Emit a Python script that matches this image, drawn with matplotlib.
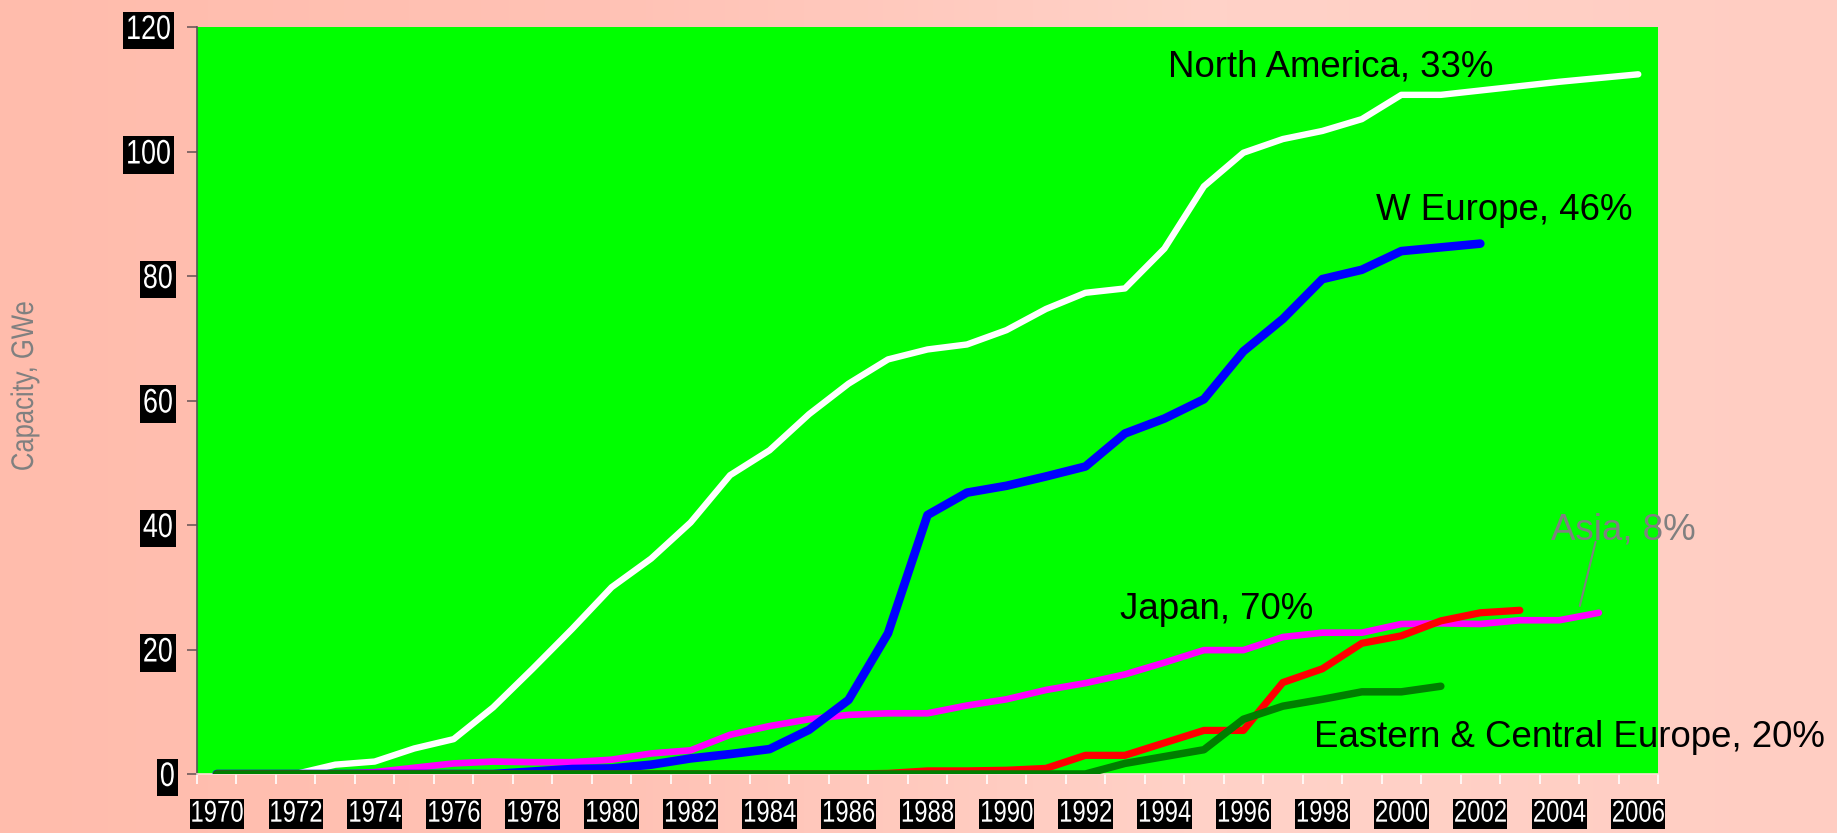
import numpy as np
import matplotlib
matplotlib.use("Agg")
import matplotlib.pyplot as plt
from matplotlib.colors import LinearSegmentedColormap
from matplotlib.patheffects import AbstractPathEffect
from matplotlib.transforms import Affine2D

years = list(range(1970, 2007))
tick_years = [str(y) for y in range(1970, 2007, 2)]
y_ticks = [0, 20, 40, 60, 80, 100, 120]

nan = float("nan")
north_america = [0, 0, 0, 1.5, 2.0, 4.1, 5.6, 10.7, 16.9, 23.3, 30.0, 34.6, 40.4, 48.0,
                 52.0, 57.8, 62.7, 66.6, 68.2, 69.0, 71.3, 74.7, 77.3, 78.0, 84.4, 94.4,
                 99.8, 102.0, 103.3, 105.2, 109.1, 109.1, 109.8, 110.5, 111.2, 111.8, 112.4]
w_europe = [0, 0, 0, 0, 0, 0, 0, 0, 0.4, 0.8, 0.9, 1.5, 2.5, 3.2, 4.0, 7.1, 11.9, 22.6,
            41.6, 45.2, 46.3, 47.8, 49.4, 54.7, 57.1, 60.2, 67.9, 73.1, 79.5, 81.0, 84.0,
            84.6, 85.2, nan, nan, nan, nan]
asia = [0, 0, 0, 0, 0.3, 1.0, 1.7, 2.0, 1.9, 1.9, 2.3, 3.3, 3.8, 6.3, 7.7, 8.8, 9.5, 9.75,
        9.75, 11.0, 12.0, 13.5, 14.6, 16.0, 17.9, 19.9, 19.9, 22.0, 22.7, 22.7, 24.1, 24.2,
        24.1, 24.7, 24.7, 25.9, nan]
japan = [0, 0, 0, 0, 0, 0, 0, 0, 0, 0, 0, 0, 0, 0, 0, 0, 0, 0.1, 0.5, 0.5, 0.6, 0.9, 3.0,
         3.0, 5.0, 7.0, 7.0, 14.7, 16.9, 21.0, 22.2, 24.6, 25.9, 26.3, nan, nan, nan]
e_c_europe = [0, 0, 0, 0, 0, 0, 0, 0, 0, 0, 0, 0, 0, 0, 0, 0, 0, 0, 0, 0, 0, 0, 0, 1.7,
              2.8, 3.9, 8.8, 10.9, 12.0, 13.2, 13.2, 14.1, nan, nan, nan, nan, nan]

main_font = "Liberation Sans"


class Squeeze(AbstractPathEffect):
    """Condense glyphs (narrow-font look) about their own centre."""

    def __init__(self, sx=1.0, sy=1.0):
        super().__init__()
        self.sx, self.sy = sx, sy

    def draw_path(self, renderer, gc, tpath, affine, rgbFace=None):
        ext = tpath.get_extents(affine)
        cx, cy = (ext.x0 + ext.x1) / 2, (ext.y0 + ext.y1) / 2
        t = affine + Affine2D().translate(-cx, -cy).scale(self.sx, self.sy).translate(cx, cy)
        renderer.draw_path(gc, tpath, t, rgbFace)


W, H = 1837, 833
fig = plt.figure(figsize=(W / 100, H / 100), dpi=100)

# background gradient
bg = fig.add_axes([0, 0, 1, 1], zorder=-10)
cmap = LinearSegmentedColormap.from_list("bg", ["#FFBCAC", "#FFC2B5", "#FFD2C8", "#FFCDC2"])
bg.imshow(np.linspace(0, 1, 256)[None, :], aspect="auto", cmap=cmap, extent=[0, 1, 0, 1])
bg.set_axis_off()

ax = fig.add_axes([197 / W, 1 - 774 / H, (1658 - 197) / W, (774 - 27) / H])
ax.set_facecolor("#00FF00")

x = np.arange(len(years))
ax.plot(x, north_america, color="white", lw=4.6, solid_capstyle="round", zorder=3)
ax.plot(x, asia, color="#FF00FF", lw=4.8, solid_capstyle="round", zorder=4)
ax.plot(x, w_europe, color="#0000FF", lw=6.2, solid_capstyle="round", zorder=5)
ax.plot(x, japan, color="#FF0000", lw=5.2, solid_capstyle="round", zorder=6)
ax.plot(x, e_c_europe, color="#007F00", lw=5.4, solid_capstyle="round", zorder=7)

ax.set_xlim(-0.5, len(years) - 0.5)
ax.set_ylim(0, 120)

sq = 0.79
# x axis: category style (labels between tick marks)
ax.set_xticks(np.arange(0, len(years), 2))
ax.set_xticklabels(tick_years)
ax.set_xticks(np.arange(-0.5, len(years), 1), minor=True)
ax.tick_params(axis="x", which="major", length=0, pad=18.5, labelsize=21.8, labelcolor="white")
ax.tick_params(axis="x", which="minor", length=7, width=1.2, color="white", direction="out")
for t in ax.get_xticklabels():
    t.set_fontfamily(main_font)
    t.set_bbox(dict(facecolor="black", edgecolor="none", pad=0.6))
    t.set_path_effects([Squeeze(sx=sq)])
    t.get_bbox_patch().set_path_effects([Squeeze(sx=sq)])

ax.set_yticks(y_ticks)
ax.set_yticklabels([str(v) for v in y_ticks])
ax.tick_params(axis="y", length=7, width=1.2, color="#6E5A5A", pad=7.5, labelsize=24.5, labelcolor="white")
for t in ax.get_yticklabels():
    t.set_fontfamily(main_font)
    t.set_bbox(dict(facecolor="black", edgecolor="none", pad=2.5))
    t.set_path_effects([Squeeze(sx=sq)])
    t.get_bbox_patch().set_path_effects([Squeeze(sx=sq)])

for s in ["top", "right"]:
    ax.spines[s].set_visible(False)
ax.spines["left"].set_color("#555555")
ax.spines["left"].set_linewidth(1.2)
ax.spines["bottom"].set_color("#FFE0D8")
ax.spines["bottom"].set_linewidth(1.2)

yl = ax.set_ylabel("Capacity, GWe", fontsize=22.5, color="#808080", fontfamily=main_font,
                   ha="center", va="center")
yl.set_path_effects([Squeeze(sy=0.82)])
ax.yaxis.set_label_coords((25 - 197) / (1658 - 197), (774 - 386) / (774 - 27))

fs = 26.4
ax.text(24.09, 112.1, "North America, 33%", fontsize=fs, fontfamily=main_font, color="black", ha="left", va="baseline")
ax.text(29.36, 89.0, "W Europe, 46%", fontsize=fs, fontfamily=main_font, color="black", ha="left", va="baseline")
ax.text(22.87, 24.9, "Japan, 70%", fontsize=fs, fontfamily=main_font, color="black", ha="left", va="baseline")
ax.text(27.80, 4.39, "Eastern & Central Europe, 20%", fontsize=fs, fontfamily=main_font, color="black",
        ha="left", va="baseline", clip_on=False, zorder=10)
ax.text(33.80, 37.6, "Asia, 8%", fontsize=fs, fontfamily=main_font, color="#808080", ha="left", va="baseline",
        clip_on=False, zorder=10)
ax.annotate("", xy=(34.52, 27.0), xytext=(34.92, 37.3),
            arrowprops=dict(arrowstyle="-", color="#808080", lw=1.5, shrinkA=0, shrinkB=0), zorder=10)

fig.savefig("out.png", dpi=100)
